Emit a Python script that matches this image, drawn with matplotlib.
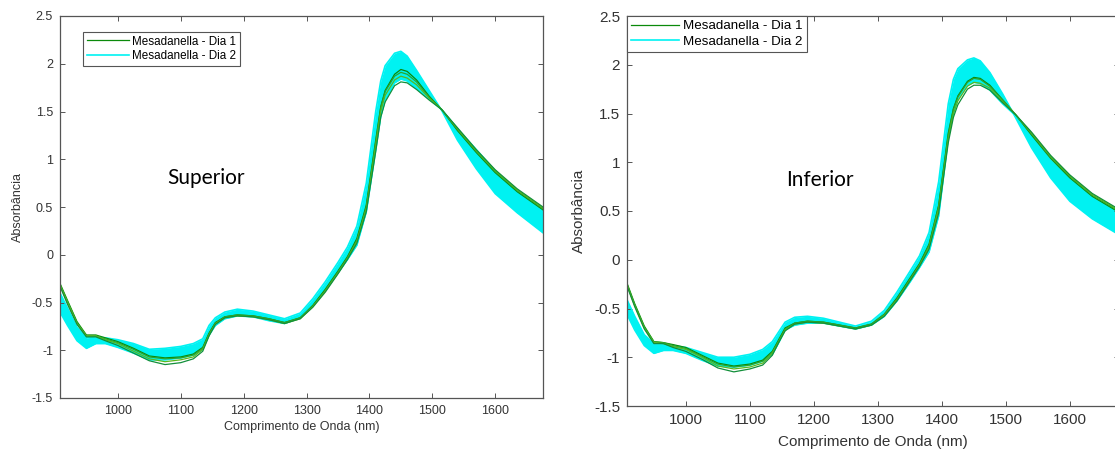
import matplotlib
matplotlib.use('Agg')
import matplotlib.pyplot as plt
from matplotlib.ticker import FuncFormatter

plt.rcParams['font.family'] = ['Liberation Sans', 'DejaVu Sans']

# comprimento de onda (nm)
wl = [908, 920, 935, 950, 965, 980, 1000, 1025, 1050, 1075,
      1100, 1120, 1135, 1145, 1155, 1170, 1190, 1215, 1240, 1265,
      1290, 1310, 1330, 1350, 1365, 1380, 1395, 1410, 1418, 1425, 1440,
      1450, 1460, 1475, 1495, 1515, 1540, 1570, 1600, 1635, 1676]

# --- Superior ---
# Dia 2: limites da faixa (curva mais alta / mais baixa no pico)
sup_dia2_a = [-0.40, -0.56, -0.76, -0.87, -0.86, -0.87, -0.89, -0.93, -0.99, -0.98,
              -0.96, -0.93, -0.88, -0.74, -0.66, -0.60, -0.57, -0.59, -0.63, -0.67,
              -0.61, -0.46, -0.28, -0.08, 0.08, 0.30, 0.75, 1.50, 1.82, 1.98, 2.11,
              2.13, 2.08, 1.93, 1.72, 1.51, 1.20, 0.90, 0.64, 0.44, 0.23]
sup_dia2_b = [-0.60, -0.74, -0.90, -0.98, -0.93, -0.93, -0.97, -1.03, -1.10, -1.10,
              -1.08, -1.05, -0.99, -0.84, -0.74, -0.67, -0.64, -0.65, -0.69, -0.72,
              -0.66, -0.53, -0.37, -0.19, -0.05, 0.10, 0.45, 1.10, 1.45, 1.62, 1.80,
              1.84, 1.82, 1.74, 1.63, 1.52, 1.32, 1.10, 0.88, 0.66, 0.47]
# Dia 1: quatro espectros
sup_dia1 = [
    [-0.30, -0.48, -0.70, -0.84, -0.84, -0.87, -0.91, -0.98, -1.06, -1.08,
     -1.07, -1.04, -0.97, -0.82, -0.71, -0.65, -0.63, -0.64, -0.67, -0.71,
     -0.66, -0.53, -0.36, -0.17, -0.02, 0.17, 0.52, 1.20, 1.55, 1.72, 1.89,
     1.94, 1.92, 1.83, 1.66, 1.52, 1.30, 1.07, 0.86, 0.66, 0.47],
    [-0.31, -0.49, -0.71, -0.85, -0.85, -0.88, -0.92, -0.99, -1.07, -1.09,
     -1.08, -1.05, -0.98, -0.83, -0.72, -0.65, -0.63, -0.64, -0.67, -0.71,
     -0.66, -0.54, -0.37, -0.18, -0.03, 0.15, 0.50, 1.18, 1.54, 1.71, 1.87,
     1.91, 1.89, 1.81, 1.65, 1.52, 1.31, 1.08, 0.87, 0.67, 0.48],
    [-0.32, -0.50, -0.72, -0.85, -0.85, -0.89, -0.93, -1.01, -1.09, -1.12,
     -1.10, -1.07, -0.99, -0.84, -0.72, -0.66, -0.64, -0.65, -0.68, -0.72,
     -0.67, -0.54, -0.38, -0.19, -0.04, 0.14, 0.48, 1.14, 1.50, 1.67, 1.83,
     1.87, 1.85, 1.78, 1.64, 1.52, 1.32, 1.09, 0.88, 0.68, 0.49],
    [-0.33, -0.52, -0.73, -0.86, -0.86, -0.90, -0.95, -1.03, -1.11, -1.15,
     -1.13, -1.09, -1.01, -0.85, -0.73, -0.66, -0.64, -0.65, -0.68, -0.72,
     -0.67, -0.55, -0.39, -0.20, -0.05, 0.12, 0.45, 1.08, 1.44, 1.60, 1.77,
     1.81, 1.80, 1.73, 1.62, 1.52, 1.33, 1.10, 0.89, 0.69, 0.50],
]

# --- Inferior ---
inf_dia2_a = [-0.41, -0.58, -0.77, -0.86, -0.86, -0.88, -0.90, -0.95, -1.00, -1.00,
              -0.97, -0.92, -0.84, -0.74, -0.64, -0.59, -0.58, -0.60, -0.64, -0.68,
              -0.63, -0.52, -0.33, -0.12, 0.04, 0.28, 0.80, 1.60, 1.85, 1.96, 2.05,
              2.07, 2.04, 1.92, 1.70, 1.46, 1.15, 0.84, 0.60, 0.42, 0.26]
inf_dia2_b = [-0.56, -0.72, -0.88, -0.96, -0.93, -0.93, -0.96, -1.03, -1.09, -1.10,
              -1.08, -1.04, -0.97, -0.85, -0.72, -0.67, -0.65, -0.65, -0.68, -0.71,
              -0.67, -0.58, -0.42, -0.23, -0.08, 0.08, 0.45, 1.25, 1.50, 1.65, 1.79,
              1.82, 1.81, 1.74, 1.60, 1.48, 1.27, 1.02, 0.83, 0.64, 0.50]
inf_dia1 = [
    [-0.24, -0.45, -0.68, -0.84, -0.85, -0.87, -0.90, -0.98, -1.06, -1.09,
     -1.07, -1.03, -0.94, -0.82, -0.70, -0.65, -0.63, -0.64, -0.67, -0.70,
     -0.66, -0.56, -0.39, -0.19, -0.04, 0.16, 0.56, 1.30, 1.55, 1.68, 1.83,
     1.87, 1.86, 1.79, 1.64, 1.49, 1.28, 1.04, 0.84, 0.65, 0.49],
    [-0.25, -0.46, -0.69, -0.84, -0.85, -0.88, -0.91, -0.99, -1.07, -1.10,
     -1.08, -1.04, -0.95, -0.83, -0.71, -0.65, -0.63, -0.64, -0.67, -0.70,
     -0.66, -0.56, -0.40, -0.20, -0.05, 0.15, 0.55, 1.28, 1.54, 1.67, 1.82,
     1.86, 1.85, 1.78, 1.64, 1.49, 1.29, 1.05, 0.85, 0.66, 0.50],
    [-0.26, -0.47, -0.70, -0.85, -0.86, -0.89, -0.92, -1.00, -1.09, -1.12,
     -1.10, -1.06, -0.96, -0.84, -0.72, -0.66, -0.64, -0.65, -0.68, -0.71,
     -0.67, -0.57, -0.41, -0.21, -0.06, 0.13, 0.52, 1.24, 1.50, 1.63, 1.78,
     1.82, 1.81, 1.76, 1.62, 1.49, 1.30, 1.06, 0.86, 0.67, 0.51],
    [-0.27, -0.48, -0.71, -0.86, -0.86, -0.90, -0.94, -1.02, -1.11, -1.15,
     -1.12, -1.08, -0.98, -0.85, -0.73, -0.66, -0.64, -0.65, -0.68, -0.71,
     -0.67, -0.58, -0.42, -0.22, -0.07, 0.11, 0.48, 1.20, 1.46, 1.59, 1.75,
     1.79, 1.79, 1.74, 1.61, 1.49, 1.31, 1.07, 0.87, 0.68, 0.52],
]

green_shades = ['#0a8a0a', '#2ba52b', '#58b81e', '#128f3a']
cyan = '#00f2f2'
xticks = [1000, 1100, 1200, 1300, 1400, 1500, 1600]
yticks = [-1.5, -1, -0.5, 0, 0.5, 1, 1.5, 2, 2.5]


def painel(ax, dia1, dia2_a, dia2_b, titulo, txy, fs, leg_anchor, leg_fs, xpad):
    ax.fill_between(wl, dia2_a, dia2_b, color=cyan, lw=0)
    lc, = ax.plot(wl, dia2_a, color=cyan, lw=1.2)
    ax.plot(wl, dia2_b, color=cyan, lw=1.2)
    lg = None
    for k, s in enumerate(dia1):
        l, = ax.plot(wl, s, color=green_shades[k], lw=0.9)
        if lg is None:
            lg = l
    ax.set_xlim(908, 1676)
    ax.set_ylim(-1.5, 2.5)
    ax.set_xticks(xticks)
    ax.set_yticks(yticks)
    ax.yaxis.set_major_formatter(FuncFormatter(lambda v, p: '%g' % v))
    ax.tick_params(direction='in', top=True, right=True, length=3.5, width=0.7,
                   colors='#555555', labelcolor='#333333', labelsize=fs, pad=5)
    for sp in ax.spines.values():
        sp.set_color('#555555')
        sp.set_linewidth(0.9)
    ax.set_xlabel('Comprimento de Onda (nm)', fontsize=fs, color='#333333', labelpad=xpad)
    ax.set_ylabel('Absorbância', fontsize=fs, color='#333333', labelpad=6)
    ax.text(txy[0], txy[1], titulo, fontsize=15, family=['Lato', 'DejaVu Sans'],
            ha='center', va='center', color='black')
    leg = ax.legend([lg, lc], ['Mesadanella - Dia 1', 'Mesadanella - Dia 2'],
                    loc='upper left', bbox_to_anchor=leg_anchor, borderaxespad=0,
                    fontsize=leg_fs, fancybox=False, framealpha=1, handlelength=3.6,
                    handletextpad=0.3, labelspacing=0.25, borderpad=0.3)
    leg.get_frame().set_edgecolor('#555555')
    leg.get_frame().set_linewidth(0.8)


fig = plt.figure(figsize=(11.15, 4.54), dpi=100)
ax1 = fig.add_axes([60 / 1115, 1 - 398 / 454, 483 / 1115, 382 / 454])
ax2 = fig.add_axes([627 / 1115, 1 - 406 / 454, 491.5 / 1115, 390 / 454])

painel(ax1, sup_dia1, sup_dia2_a, sup_dia2_b, 'Superior', (1140, 0.8), 9,
       (0.048, 0.958), 8.4, 3)
painel(ax2, inf_dia1, inf_dia2_a, inf_dia2_b, 'Inferior', (1210, 0.82), 11,
       (0.0, 1.0), 9.6, 6)

fig.savefig('out.png', dpi=100)
